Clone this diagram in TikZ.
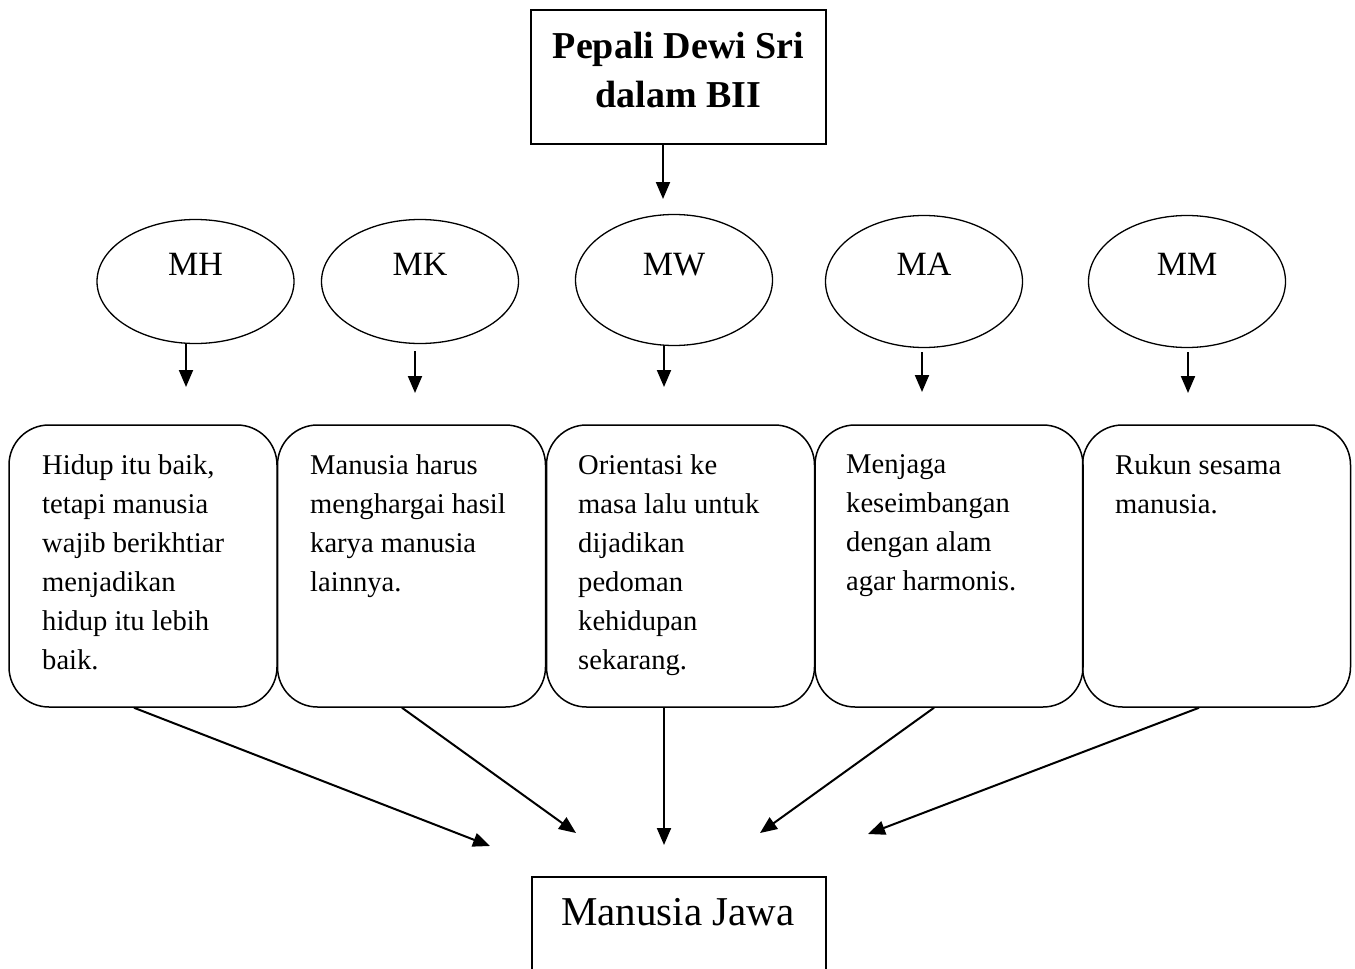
\documentclass[tikz,border=0pt]{standalone}
\usepackage{fontspec}
\setmainfont{Liberation Serif}
\usetikzlibrary{shapes.geometric,arrows.meta,calc}
\begin{document}
\begin{tikzpicture}[x=1pt,y=-1pt,
 ell/.style={draw,ellipse,line width=1.3pt,minimum width=197pt,minimum height=124pt,inner sep=0pt},
 elltxt/.style={font=\fontsize{34}{40}\selectfont,inner sep=0pt,anchor=base},
 rbox/.style={draw,line width=1.5pt,rounded corners=40pt,minimum width=268pt,minimum height=282pt,inner sep=0pt},
 btxt/.style={font=\fontsize{28.6}{39}\selectfont,align=left,inner sep=0pt,anchor=north west,execute at begin node={\rule{0pt}{22pt}}},
 arr/.style={line width=2pt,-{Triangle[length=17pt,width=14pt]}},
 sqbox/.style={draw,line width=1.5pt,inner sep=0pt},
 ttxt/.style={font=\fontsize{38}{49}\selectfont\bfseries,anchor=base,inner sep=0pt}]
\useasboundingbox (0,0) rectangle (1355,969);
\clip (0,0) rectangle (1355,969);
% title
\node[sqbox,minimum width=295pt,minimum height=134pt] (title) at (678.5,77) {};
\node[ttxt] (t1) at (678.5,58) {Pepali Dewi Sri};
\node[ttxt] (t2) at (678.5,107) {dalam BII};
\coordinate (ta) at (663,199);
\draw[arr] (title.south -| ta) -- (ta);
% ellipses
\node[ell] (mh) at (195.5,281.5) {};
\node[ell] (mk) at (420,281.5) {};
\node[ell,minimum height=131pt] (mw) at (674,280) {};
\node[ell,minimum height=132pt] (ma) at (924,281.5) {};
\node[ell,minimum height=132pt] (mm) at (1187,281.5) {};
\node[elltxt] (mht) at (195.5,275) {MH};
\node[elltxt] (mkt) at (420,275) {MK};
\node[elltxt] (mwt) at (674,275) {MW};
\node[elltxt] (mat) at (924,275) {MA};
\node[elltxt] (mmt) at (1187,275) {MM};
\coordinate (a1) at (186,387);
\coordinate (a2) at (415,393);
\coordinate (a3) at (664,387);
\coordinate (a4) at (922,392);
\coordinate (a5) at (1188,393);
\draw[arr] (mh.south -| a1) -- (a1);
\draw[arr] ($(mk.south -| a2)+(0,7)$) -- (a2);
\draw[arr] (mw.south -| a3) -- (a3);
\draw[arr] ($(ma.south -| a4)+(0,4)$) -- (a4);
\draw[arr] ($(mm.south -| a5)+(0,4)$) -- (a5);
% rounded boxes
\node[rbox] (b1) at (143,566) {};
\node[rbox] (b2) at (411.5,566) {};
\node[rbox] (b3) at (680.5,566) {};
\node[rbox] (b4) at (949,566) {};
\node[rbox] (b5) at (1216.5,566) {};
\node[btxt] (x1) at (42,454) {Hidup itu baik,\\tetapi manusia\\wajib berikhtiar\\menjadikan\\hidup itu lebih\\baik.};
\node[btxt] (x2) at (310,454) {Manusia harus\\menghargai hasil\\karya manusia\\lainnya.};
\node[btxt] (x3) at (578,454) {Orientasi ke\\masa lalu untuk\\dijadikan\\pedoman\\kehidupan\\sekarang.};
\node[btxt] (x4) at (846,454) {Menjaga\\keseimbangan\\dengan alam\\agar harmonis.};
\node[btxt] (x5) at (1115,454) {Rukun sesama\\manusia.};
% bottom box
\node[sqbox,minimum width=294pt,minimum height=140pt,anchor=north] (mj) at (679,876) {};
\node[font=\fontsize{41}{48}\selectfont,anchor=base,inner sep=0pt] (mjt) at (678,925) {Manusia Jawa};
\coordinate (e1) at (490,846);
\coordinate (e2) at (576,833);
\coordinate (e3) at (664,845);
\coordinate (e4) at (760,833);
\coordinate (e5) at (868,834);
\draw[arr] ([xshift=-9pt]b1.south) -- (e1);
\draw[arr] ([xshift=-9.5pt]b2.south) -- (e2);
\draw[arr] (b3.south -| e3) -- (e3);
\draw[arr] ([xshift=-15pt]b4.south) -- (e4);
\draw[arr] ([xshift=-17.5pt]b5.south) -- (e5);
\end{tikzpicture}
\end{document}
